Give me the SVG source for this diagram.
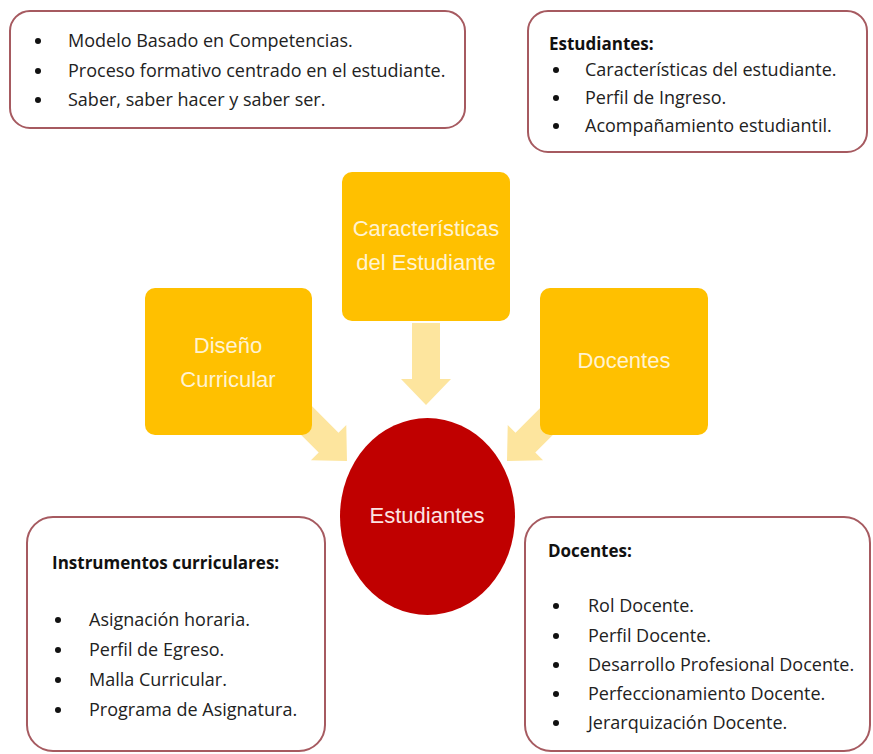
<svg xmlns="http://www.w3.org/2000/svg" width="873" height="754" viewBox="0 0 873 754">
  <defs>
    <style>
      .card { fill: #FFFFFF; stroke: #A65A60; stroke-width: 2; }
      .gold { fill: #FFC000; }
      .hub { fill: #C00000; }
      .arrow { fill: #FDE59E; }
      .txt { font-family: "Open Sans", "Liberation Sans", Arial, sans-serif; font-size: 18px; fill: #222222; }
      .bold { font-family: "Open Sans", "Liberation Sans", Arial, sans-serif; font-size: 17px; font-weight: bold; fill: #111111; }
      .big { font-family: "Liberation Sans", Arial, sans-serif; font-size: 22px; fill: #FFF3D2; text-anchor: middle; }
      .bul { fill: #111111; }
    </style>
    <polygon id="arrowShape" points="0,-14 56,-14 56,-25 82,0 56,25 56,14 0,14"/>
  </defs>
  <rect width="873" height="754" fill="#FFFFFF"/>

  <g id="connectors">
    <use href="#arrowShape" class="arrow" transform="translate(426,323) rotate(90)"/>
    <use href="#arrowShape" class="arrow" transform="translate(289,403) rotate(45)"/>
    <use href="#arrowShape" class="arrow" transform="translate(565,403) rotate(135)"/>
  </g>

  <g id="note-modelo">
    <rect class="card" x="10" y="11" width="455" height="117" rx="20"/>
    <circle class="bul" cx="38" cy="41" r="3"/>
    <circle class="bul" cx="38" cy="71" r="3"/>
    <circle class="bul" cx="38" cy="100" r="3"/>
    <text class="txt" x="68" y="47">Modelo Basado en Competencias.</text>
    <text class="txt" x="68" y="77">Proceso formativo centrado en el estudiante.</text>
    <text class="txt" x="68" y="106">Saber, saber hacer y saber ser.</text>
  </g>

  <g id="note-estudiantes">
    <rect class="card" x="528" y="11" width="339" height="141" rx="20"/>
    <text class="bold" x="549" y="50">Estudiantes:</text>
    <circle class="bul" cx="556" cy="70" r="3"/>
    <circle class="bul" cx="556" cy="98" r="3"/>
    <circle class="bul" cx="556" cy="126" r="3"/>
    <text class="txt" x="585" y="76">Características del estudiante.</text>
    <text class="txt" x="585" y="104">Perfil de Ingreso.</text>
    <text class="txt" x="585" y="132">Acompañamiento estudiantil.</text>
  </g>

  <g id="node-caracteristicas">
    <rect class="gold" x="342" y="172" width="168" height="149" rx="10"/>
    <text class="big" x="426" y="236">Características</text>
    <text class="big" x="426" y="270">del Estudiante</text>
  </g>

  <g id="node-diseno">
    <rect class="gold" x="145" y="288" width="167" height="147" rx="10"/>
    <text class="big" x="228" y="353">Diseño</text>
    <text class="big" x="228" y="387">Curricular</text>
  </g>

  <g id="node-docentes">
    <rect class="gold" x="540" y="288" width="168" height="147" rx="10"/>
    <text class="big" x="624" y="368">Docentes</text>
  </g>

  <g id="node-estudiantes">
    <ellipse class="hub" cx="427.5" cy="516.5" rx="87.5" ry="98.5"/>
    <text class="big" x="427" y="523" style="fill:#FBE3E3">Estudiantes</text>
  </g>

  <g id="note-instrumentos">
    <rect class="card" x="27" y="517" width="298" height="234" rx="26"/>
    <text class="bold" x="52" y="569">Instrumentos curriculares:</text>
    <circle class="bul" cx="58" cy="620" r="3"/>
    <circle class="bul" cx="58" cy="650" r="3"/>
    <circle class="bul" cx="58" cy="680" r="3"/>
    <circle class="bul" cx="58" cy="710" r="3"/>
    <text class="txt" x="89" y="626">Asignación horaria.</text>
    <text class="txt" x="89" y="656">Perfil de Egreso.</text>
    <text class="txt" x="89" y="686">Malla Curricular.</text>
    <text class="txt" x="89" y="716">Programa de Asignatura.</text>
  </g>

  <g id="note-docentes">
    <rect class="card" x="525" y="517" width="345" height="234" rx="26"/>
    <text class="bold" x="548" y="557">Docentes:</text>
    <circle class="bul" cx="556" cy="606" r="3"/>
    <circle class="bul" cx="556" cy="636" r="3"/>
    <circle class="bul" cx="556" cy="665" r="3"/>
    <circle class="bul" cx="556" cy="694" r="3"/>
    <circle class="bul" cx="556" cy="723" r="3"/>
    <text class="txt" x="588" y="612">Rol Docente.</text>
    <text class="txt" x="588" y="642">Perfil Docente.</text>
    <text class="txt" x="588" y="671">Desarrollo Profesional Docente.</text>
    <text class="txt" x="588" y="700">Perfeccionamiento Docente.</text>
    <text class="txt" x="588" y="729">Jerarquización Docente.</text>
  </g>
</svg>
